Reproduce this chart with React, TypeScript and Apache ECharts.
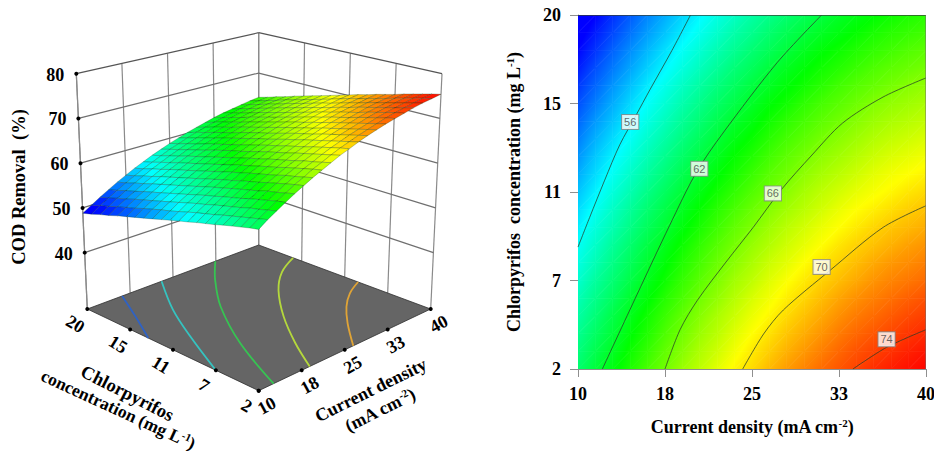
import React, { useEffect, useRef } from "react";
import * as echarts from "echarts";

const gridCurrent = [10, 11.5, 13, 14.5, 16, 17.5, 19, 20.5, 22, 23.5, 25, 26.5, 28, 29.5, 31, 32.5, 34, 35.5, 37, 38.5, 40];
const gridConc = [2, 2.9, 3.8, 4.7, 5.6, 6.5, 7.4, 8.3, 9.2, 10.1, 11, 11.9, 12.8, 13.7, 14.6, 15.5, 16.4, 17.3, 18.2, 19.1, 20];
// COD removal (%), rows = conc, columns = current
const removal = [
  [60.2,61.5,62.6,63.7,64.8,65.8,66.8,67.7,68.6,69.5,70.2,71.0,71.7,72.3,72.9,73.4,73.9,74.4,74.8,75.1,75.4],
  [59.8,61.0,62.1,63.3,64.3,65.4,66.3,67.3,68.1,69.0,69.8,70.5,71.2,71.8,72.4,73.0,73.5,73.9,74.3,74.7,75.0],
  [59.3,60.5,61.6,62.8,63.8,64.9,65.8,66.8,67.6,68.5,69.3,70.0,70.7,71.3,71.9,72.5,73.0,73.4,73.8,74.2,74.5],
  [58.8,60.0,61.2,62.3,63.4,64.4,65.4,66.3,67.2,68.0,68.8,69.5,70.2,70.8,71.4,72.0,72.5,72.9,73.3,73.7,74.0],
  [58.3,59.5,60.6,61.8,62.8,63.9,64.8,65.8,66.6,67.5,68.3,69.0,69.7,70.3,70.9,71.5,72.0,72.4,72.8,73.2,73.5],
  [57.7,59.0,60.1,61.2,62.3,63.3,64.3,65.2,66.1,67.0,67.7,68.5,69.2,69.8,70.4,70.9,71.4,71.9,72.3,72.6,72.9],
  [57.2,58.4,59.6,60.7,61.8,62.8,63.8,64.7,65.6,66.4,67.2,68.0,68.6,69.3,69.9,70.4,70.9,71.4,71.8,72.1,72.4],
  [56.7,57.9,59.1,60.2,61.3,62.3,63.3,64.2,65.1,65.9,66.7,67.4,68.1,68.7,69.3,69.9,70.4,70.8,71.2,71.6,71.9],
  [56.1,57.4,58.5,59.6,60.7,61.7,62.7,63.6,64.5,65.4,66.1,66.9,67.6,68.2,68.8,69.3,69.8,70.3,70.7,71.0,71.3],
  [55.6,56.8,58.0,59.1,60.2,61.2,62.2,63.1,64.0,64.8,65.6,66.3,67.0,67.6,68.2,68.8,69.3,69.7,70.1,70.5,70.8],
  [55.0,56.2,57.4,58.5,59.6,60.6,61.6,62.5,63.4,64.2,65.0,65.7,66.4,67.1,67.7,68.2,68.7,69.1,69.5,69.9,70.2],
  [54.4,55.6,56.8,57.9,59.0,60.0,61.0,61.9,62.8,63.6,64.4,65.2,65.8,66.5,67.1,67.6,68.1,68.6,69.0,69.3,69.6],
  [53.8,55.1,56.2,57.3,58.4,59.4,60.4,61.3,62.2,63.1,63.8,64.6,65.3,65.9,66.5,67.0,67.5,68.0,68.4,68.7,69.0],
  [53.2,54.5,55.6,56.7,57.8,58.8,59.8,60.7,61.6,62.5,63.2,64.0,64.7,65.3,65.9,66.4,66.9,67.4,67.8,68.1,68.4],
  [52.6,53.9,55.0,56.1,57.2,58.2,59.2,60.1,61.0,61.9,62.6,63.4,64.1,64.7,65.3,65.8,66.3,66.8,67.2,67.5,67.8],
  [52.0,53.2,54.4,55.5,56.6,57.6,58.6,59.5,60.4,61.2,62.0,62.8,63.4,64.1,64.7,65.2,65.7,66.2,66.6,66.9,67.2],
  [51.4,52.6,53.8,54.9,56.0,57.0,58.0,58.9,59.8,60.6,61.4,62.1,62.8,63.4,64.0,64.6,65.1,65.5,65.9,66.3,66.6],
  [50.7,52.0,53.1,54.2,55.3,56.3,57.3,58.2,59.1,60.0,60.7,61.5,62.2,62.8,63.4,63.9,64.4,64.9,65.3,65.6,65.9],
  [50.1,51.3,52.5,53.6,54.7,55.7,56.7,57.6,58.5,59.3,60.1,60.8,61.5,62.2,62.8,63.3,63.8,64.2,64.6,65.0,65.3],
  [49.4,50.7,51.8,52.9,54.0,55.0,56.0,56.9,57.8,58.7,59.4,60.2,60.9,61.5,62.1,62.6,63.1,63.6,64.0,64.3,64.6],
  [48.8,50.0,51.2,52.3,53.4,54.4,55.4,56.3,57.2,58.0,58.8,59.5,60.2,60.8,61.4,62.0,62.5,62.9,63.3,63.7,64.0],
];

const currentTicks = [10, 17.5, 25, 32.5, 40];
const currentTickLabels = ["10", "18", "25", "33", "40"];
const concTicks = [2, 6.5, 11, 15.5, 20];
const concTickLabels = ["2", "7", "11", "15", "20"];
const removalTicks = [40, 50, 60, 70, 80];

const colorValues = [50, 56.5, 63, 69.3, 75.5];
const colorRgb = [[0, 0, 255], [0, 255, 255], [0, 255, 0], [255, 255, 0], [255, 0, 0]];

// contour lines on the right panel: [current, conc]
const contour56 = [[19.7, 20], [18.1, 18.2], [16.2, 16.2], [15, 14.9], [13.6, 13.4], [12.3, 11.6], [11, 9.7], [10, 8.2]];
const contour62 = [[31, 20], [27.2, 17.6], [22.5, 14], [20.2, 12], [17.9, 9.3], [15.1, 5.8], [12.1, 2]];
const contour66 = [[40, 16.8], [36.3, 15.83], [32.8, 14.5], [30.17, 12.88], [27.5, 11.1], [25.1, 9.2], [22.76, 7.44], [20.3, 5.5], [18.8, 4], [17.5, 2]];
const contour70 = [[40, 10.3], [36.3, 9.2], [31.7, 7], [27.7, 5], [26, 3.78], [24.2, 2]];
const contour74 = [[40, 4], [36.6, 3.1], [33.7, 2]];
const contourLabels = [[14.5, 14.56, 56], [20.46, 12.18, 62], [26.8, 10.93, 66], [31, 7.19, 70], [36.6, 3.51, 74]];

// contour lines projected on the floor of the 3D panel: [current, conc]
const floorBlue = [[16.1, 20], [13.1, 16.8], [10, 13.6]];
const floorCyan = [[23, 20], [18, 15.8], [14.2, 11.7], [10, 6.5]];
const floorGreen = [[32.4, 20], [28.2, 17.5], [23, 13.8], [17.4, 8.4], [12.6, 2]];
const floorLime = [[40, 16.4], [35.9, 15.1], [31.6, 12.9], [26.5, 9.3], [22.2, 5.5], [18.9, 2]];
const floorOrange = [[40, 9.6], [36.9, 8.6], [33.8, 7.1], [30.5, 5], [26.5, 2]];

const SERIF = '"Liberation Serif", "Times New Roman", serif';

// corners of the 3D box on screen: [floor, top]
const BOX = {
  front: [[258.7, 390.7], [258.7, 132]],
  right: [[430.7, 309], [442, 73.7]],
  left: [[87.3, 309], [76.3, 73.7]],
  back: [[258.7, 245], [258.7, 32.7]],
};
const Z_FLOOR = 27.4;
const Z_TOP = 80;

function project(current: number, conc: number, z: number): [number, number] {
  const u = (current - 10) / 30;
  const v = (conc - 2) / 18;
  const t = (z - Z_FLOOR) / (Z_TOP - Z_FLOOR);
  const at = (k: number, a: number) =>
    BOX.front[k][a] * (1 - u) * (1 - v) + BOX.right[k][a] * u * (1 - v) + BOX.left[k][a] * (1 - u) * v + BOX.back[k][a] * u * v;
  return [at(0, 0) * (1 - t) + at(1, 0) * t, at(0, 1) * (1 - t) + at(1, 1) * t];
}

function colorOf(val: number): string {
  const vs = colorValues;
  let k = 0;
  if (val <= vs[0]) k = 0;
  else if (val >= vs[vs.length - 1]) k = vs.length - 2;
  else while (val > vs[k + 1]) k++;
  const f = Math.max(0, Math.min(1, (val - vs[k]) / (vs[k + 1] - vs[k])));
  const c = colorRgb[k].map((a, n) => Math.round(a + (colorRgb[k + 1][n] - a) * f));
  return `rgb(${c[0]},${c[1]},${c[2]})`;
}

// fill of one triangle whose colour follows the value across it
function triangleFill(p: number[][], val: number[]) {
  const d = (p[1][0] - p[0][0]) * (p[2][1] - p[0][1]) - (p[2][0] - p[0][0]) * (p[1][1] - p[0][1]);
  const a = ((val[1] - val[0]) * (p[2][1] - p[0][1]) - (val[2] - val[0]) * (p[1][1] - p[0][1])) / d;
  const b = ((val[2] - val[0]) * (p[1][0] - p[0][0]) - (val[1] - val[0]) * (p[2][0] - p[0][0])) / d;
  const g2 = a * a + b * b;
  const lo = Math.min(...val);
  const hi = Math.max(...val);
  if (g2 < 1e-9 || hi - lo < 1e-6) return colorOf((val[0] + val[1] + val[2]) / 3);
  const pointAt = (w: number) => [p[0][0] + (a * (w - val[0])) / g2, p[0][1] + (b * (w - val[0])) / g2];
  const s = pointAt(lo);
  const e = pointAt(hi);
  const stops = [{ offset: 0, color: colorOf(lo) }];
  colorValues.forEach((w) => {
    if (w > lo && w < hi) stops.push({ offset: (w - lo) / (hi - lo), color: colorOf(w) });
  });
  stops.push({ offset: 1, color: colorOf(hi) });
  return new echarts.graphic.LinearGradient(s[0], s[1], e[0], e[1], stops, true);
}

const cells: number[][] = [];
for (let i = gridCurrent.length - 2; i >= 0; i--) {
  for (let j = gridConc.length - 2; j >= 0; j--) cells.push([i, j]);
}

function dot(p: number[]) {
  return { type: "circle", shape: { cx: p[0], cy: p[1], r: 2 }, style: { fill: "#000" } };
}
function seg(a: number[], b: number[], stroke: string, lineWidth: number) {
  return { type: "line", shape: { x1: a[0], y1: a[1], x2: b[0], y2: b[1] }, style: { stroke, lineWidth } };
}
function label(text: string, x: number, y: number, rotation: number, fontSize = 18, align = "center") {
  return {
    type: "text",
    x,
    y,
    rotation,
    style: {
      text,
      font: `bold ${fontSize}px ${SERIF}`,
      fill: "#000",
      align,
      verticalAlign: "middle",
      rich: {
        a: { fontFamily: SERIF, fontWeight: "bold", fontSize, lineHeight: 19, fill: "#000" },
        s: { fontFamily: SERIF, fontWeight: "bold", fontSize: 11, lineHeight: 11, verticalAlign: "top", fill: "#000" },
      },
    },
  };
}

function renderBox() {
  const [cMin, cMax] = [currentTicks[0], currentTicks[4]];
  const [nMin, nMax] = [concTicks[0], concTicks[4]];
  const wall = "#8a8a8a";
  const kids: any[] = [];
  currentTicks.forEach((c) => kids.push(seg(project(c, nMax, Z_FLOOR), project(c, nMax, Z_TOP), wall, 1.2)));
  concTicks.forEach((n) => kids.push(seg(project(cMax, n, Z_FLOOR), project(cMax, n, Z_TOP), wall, 1.2)));
  kids.push(seg(project(cMin, nMax, Z_FLOOR), project(cMin, nMax, Z_TOP), wall, 1.2));
  removalTicks.forEach((z) => {
    const c = z === 80 ? "#555" : "#6f6f6f";
    kids.push(seg(project(cMin, nMax, z), project(cMax, nMax, z), c, 1.2));
    kids.push(seg(project(cMax, nMax, z), project(cMax, nMin, z), c, 1.2));
  });
  const floor = [project(cMin, nMin, Z_FLOOR), project(cMax, nMin, Z_FLOOR), project(cMax, nMax, Z_FLOOR), project(cMin, nMax, Z_FLOOR)];
  kids.push({ type: "polygon", shape: { points: floor }, style: { fill: "#656565", stroke: "#2e2e2e", lineWidth: 0.8 } });
  return { type: "group", children: kids };
}

function renderFloorLine(points: number[][], color: string) {
  const pts = points.map((q) => project(q[0], q[1], Z_FLOOR));
  return { type: "polyline", shape: { points: pts, smooth: 0.35 }, style: { stroke: color, lineWidth: 1.8, fill: "none" } };
}

function renderAnnotations() {
  const kids: any[] = [];
  removalTicks.forEach((z) => {
    const p = project(10, 20, z);
    kids.push(dot(p));
    kids.push(label(String(z), p[0] - 12, p[1] + 1, 0, 18, "right"));
  });
  concTicks.forEach((n, k) => {
    const p = project(10, n, Z_FLOOR);
    kids.push(dot(p));
    kids.push(label(concTickLabels[k], p[0] - 12, p[1] + 15, -0.55));
  });
  currentTicks.forEach((c, k) => {
    const p = project(c, 2, Z_FLOOR);
    kids.push(dot(p));
    kids.push(label(currentTickLabels[k], p[0] + 8, p[1] + 15, 0.5));
  });
  kids.push(label("COD Removal  (%)", 18.5, 187, Math.PI / 2, 18.5));
  kids.push(label("Chlorpyrifos", 127.3, 393.3, -0.47, 18.5));
  kids.push(label("{a|concentration (mg L}{s|-1}{a|)}", 118.3, 409.5, -0.43, 17.5));
  kids.push(label("Current density", 370.7, 390, 0.46, 18));
  kids.push(label("{a|(mA cm}{s|-2}{a|)}", 380, 410, 0.46, 18));
  return { type: "group", children: kids };
}

function contourSeries(data: number[][]) {
  return {
    type: "line",
    data,
    smooth: 0.3,
    showSymbol: false,
    silent: true,
    z: 5,
    lineStyle: { color: "rgba(40,60,40,0.75)", width: 1 },
  };
}

function tickFormatter(ticks: number[], labels: string[]) {
  return (v: number) => {
    const k = ticks.indexOf(v);
    return k >= 0 ? labels[k] : "";
  };
}

const axisBase = {
  type: "value",
  splitLine: { show: false },
  axisLine: { show: true, onZero: false, lineStyle: { color: "#8f8f8f", width: 1 } },
  nameLocation: "center",
  nameTextStyle: {
    rich: {
      a: { fontFamily: SERIF, fontWeight: "bold", fontSize: 18, lineHeight: 19, color: "#000" },
      s: { fontFamily: SERIF, fontWeight: "bold", fontSize: 11, lineHeight: 11, verticalAlign: "top", color: "#000" },
    },
  },
};

export default function App() {
  const ref = useRef<HTMLDivElement>(null);
  useEffect(() => {
    const chart = echarts.init(ref.current!, null, { renderer: "svg" });
    chart.setOption({
      animation: false,
      backgroundColor: "#fff",
      grid: { left: 578, top: 15, width: 348, height: 354, outerBoundsMode: "none" },
      graphic: [
        { type: "line", z: 20, shape: { x1: 578, y1: 15.5, x2: 926, y2: 15.5 }, style: { stroke: "rgba(50,60,50,0.7)", lineWidth: 1 } },
        { type: "line", z: 20, shape: { x1: 925.5, y1: 15, x2: 925.5, y2: 369 }, style: { stroke: "rgba(110,110,110,0.5)", lineWidth: 1 } },
      ],
      xAxis: {
        ...axisBase,
        min: 10,
        max: 40,
        name: "{a|Current density (mA cm}{s|-2}{a|)}",
        nameGap: 48,
        axisTick: { show: true, length: 8, customValues: currentTicks, lineStyle: { color: "#8f8f8f" } },
        axisLabel: {
          customValues: currentTicks,
          formatter: tickFormatter(currentTicks, currentTickLabels),
          margin: 16,
          color: "#000",
          fontFamily: SERIF,
          fontWeight: "bold",
          fontSize: 18,
        },
      },
      yAxis: {
        ...axisBase,
        min: 2,
        max: 20,
        name: "{a|Chlorpyrifos  concentration (mg L}{s|-1}{a|)}",
        nameGap: 55,
        axisTick: { show: true, length: 8, customValues: concTicks, lineStyle: { color: "#8f8f8f" } },
        axisLabel: {
          customValues: concTicks,
          formatter: tickFormatter(concTicks, concTickLabels),
          margin: 17,
          color: "#000",
          fontFamily: SERIF,
          fontWeight: "bold",
          fontSize: 18,
        },
      },
      series: [
        {
          type: "custom",
          coordinateSystem: "cartesian2d",
          silent: true,
          clip: true,
          z: 1,
          data: cells,
          renderItem: (_p: any, api: any) => {
            const i = api.value(0);
            const j = api.value(1);
            const node = (a: number, b: number) => api.coord([gridCurrent[a], gridConc[b]]);
            const tri = (nodes: number[][]) => {
              const pts = nodes.map((n) => node(n[0], n[1]));
              const val = nodes.map((n) => removal[n[1]][n[0]]);
              const fill = triangleFill(pts, val);
              return { type: "polygon", shape: { points: pts }, style: { fill, stroke: fill, lineWidth: 0.7 } };
            };
            return {
              type: "group",
              children: [
                tri([[i, j], [i + 1, j], [i + 1, j + 1]]),
                tri([[i, j], [i + 1, j + 1], [i, j + 1]]),
              ],
            };
          },
        },
        contourSeries(contour56),
        contourSeries(contour62),
        contourSeries(contour66),
        contourSeries(contour70),
        contourSeries(contour74),
        {
          type: "scatter",
          data: contourLabels,
          symbol: "rect",
          symbolSize: 1,
          silent: true,
          z: 6,
          itemStyle: { color: "rgba(0,0,0,0)" },
          label: {
            show: true,
            position: "inside",
            formatter: (p: any) => String(p.value[2]),
            fontFamily: '"Liberation Sans", Arial, sans-serif',
            fontSize: 11,
            color: "#444",
            backgroundColor: "#fff",
            borderColor: "#888",
            borderWidth: 1,
            padding: [2, 2, 1, 2],
          },
        },
        { type: "custom", coordinateSystem: "none", silent: true, z: 1, data: [[0]], renderItem: renderBox },
        { type: "custom", coordinateSystem: "none", silent: true, z: 2, data: [[0]], renderItem: () => renderFloorLine(floorBlue, "#2f62c4") },
        { type: "custom", coordinateSystem: "none", silent: true, z: 2, data: [[0]], renderItem: () => renderFloorLine(floorCyan, "#35c3c0") },
        { type: "custom", coordinateSystem: "none", silent: true, z: 2, data: [[0]], renderItem: () => renderFloorLine(floorGreen, "#36c452") },
        { type: "custom", coordinateSystem: "none", silent: true, z: 2, data: [[0]], renderItem: () => renderFloorLine(floorLime, "#b4d83c") },
        { type: "custom", coordinateSystem: "none", silent: true, z: 2, data: [[0]], renderItem: () => renderFloorLine(floorOrange, "#e0a436") },
        {
          type: "custom",
          coordinateSystem: "none",
          silent: true,
          z: 3,
          data: cells,
          renderItem: (_p: any, api: any) => {
            const i = api.value(0);
            const j = api.value(1);
            const corner = (a: number, b: number) => project(gridCurrent[a], gridConc[b], removal[b][a]);
            const mean = (removal[j][i] + removal[j][i + 1] + removal[j + 1][i] + removal[j + 1][i + 1]) / 4;
            return {
              type: "polygon",
              shape: { points: [corner(i, j), corner(i + 1, j), corner(i + 1, j + 1), corner(i, j + 1)] },
              style: { fill: colorOf(mean), stroke: "rgba(0,50,20,0.5)", lineWidth: 0.5 },
            };
          },
        },
        { type: "custom", coordinateSystem: "none", silent: true, z: 4, data: [[0]], renderItem: renderAnnotations },
      ],
    });
    return () => chart.dispose();
  }, []);
  return <div ref={ref} style={{ position: "absolute", left: 0, top: 0, width: 934, height: 454 }} />;
}
